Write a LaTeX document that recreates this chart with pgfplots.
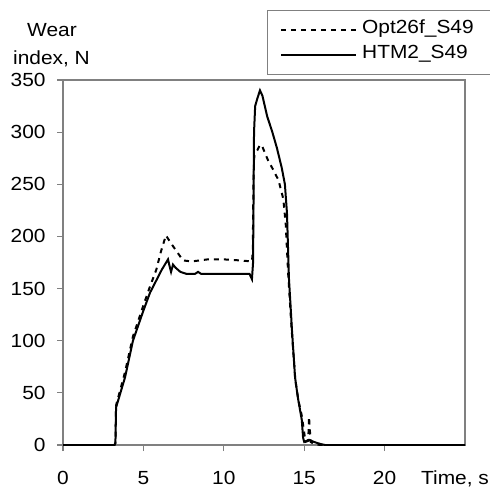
\documentclass[border=0pt]{standalone}
\usepackage{fontspec}
\setmainfont{Liberation Sans}[FakeStretch=1.1]
\usepackage{pgfplots}
\pgfplotsset{compat=1.18}

\pgfplotstableread{
x y
0 0
3.2 0
3.26 2
3.3 36
3.86 65
4.35 100
4.98 128
5.41 146
6.14 168
6.53 178
6.62 172
6.72 166
6.84 173
7.0 170
7.3 166
7.7 164
8.2 164
8.4 166
8.6 164
11.6 164
11.75 159
11.82 175
11.88 300
11.95 325
12.1 333
12.25 340
12.4 335
12.7 315
13.0 301
13.3 285
13.6 266
13.8 250
13.93 222
14.05 160
14.24 110
14.43 65
14.6 46
14.85 24
14.93 7
15.0 3
15.3 5
15.6 3
16.0 1
16.3 0
25 0
}\htmtable

\pgfplotstableread{
x y
0 0
3.2 0
3.26 2
3.3 38
3.86 70
4.35 104
4.98 133
5.41 152
5.8 168
6.1 186
6.4 201
6.78 192
7.1 185
7.46 177
8.0 176
9.0 178
10.0 178
11.0 177
11.75 176
11.8 185
11.85 260
11.9 278
12.1 283
12.25 288
12.4 286
12.56 280
12.75 273
13.0 266
13.4 254
13.7 236
13.85 212
14.0 165
14.2 115
14.45 62
14.65 42
14.85 28
15.0 12
15.08 3
15.25 4
15.3 27
15.4 3
15.6 1
16.0 0
25 0
}\opttable

\begin{document}
\begin{tikzpicture}[font=\fontsize{9.5}{11.4}\selectfont]
\path[use as bounding box] (-31.5pt,-20.5pt) rectangle (213.5pt,222.5pt);
\begin{axis}[
    scale only axis,
    width=201pt, height=182.5pt,
    xmin=0, xmax=25, ymin=0, ymax=350,
    xtick={0,5,10,15,20},
    ytick={0,50,...,350},
    tick align=outside,
    major tick length=3pt,
    xtick pos=left, ytick pos=left,
    axis line style={gray, line width=0.6pt},
    every tick/.style={gray, line width=0.6pt},
    /pgf/number format/assume math mode=true,
    tick label style={font=\fontsize{9.5}{11.4}\selectfont},
    yticklabel style={anchor=east, inner sep=0pt, xshift=-5.5pt},
    xticklabel style={anchor=base, inner sep=0pt, yshift=-16.5pt},
    legend cell align=left,
    legend image code/.code={\draw[#1] (0pt,0pt) -- (37.5pt,0pt);},
    legend style={draw=gray, line width=0.6pt, at={(axis cs:12.69,417)}, anchor=north west,
        inner xsep=6.25pt, inner ysep=3.5pt, row sep=0pt,
        font=\fontsize{9.5}{11.4}\selectfont,
        nodes={inner xsep=2.5pt, inner ysep=0pt, text height=8pt, text depth=4.5pt}},
    clip=true,
]
\addplot[black, line width=1pt, dash pattern=on 2.5pt off 2.5pt] table[x=x,y=y] {\opttable};
\addlegendentry{Opt26f\_S49}
\addplot[black, line width=1pt] table[x=x,y=y] {\htmtable};
\addlegendentry{HTM2\_S49}
\end{axis}
\node[anchor=base] at (-5.5pt,204pt) {Wear};
\node[anchor=base] at (-5.75pt,190pt) {index, N};
\node[anchor=base] at (196pt,-19.5pt) {Time, s};
\end{tikzpicture}
\end{document}
